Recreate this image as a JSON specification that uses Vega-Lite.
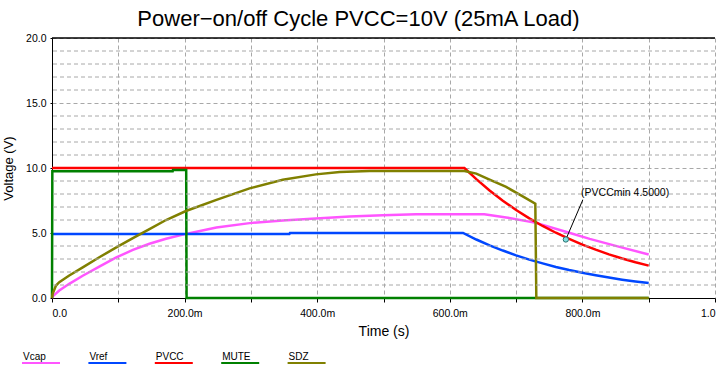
{
  "$schema": "https://vega.github.io/schema/vega-lite/v6.json",
  "width": 663,
  "height": 260,
  "autosize": {"type": "none"},
  "padding": {"left": 52, "top": 38, "right": 2, "bottom": 75},
  "background": "white",
  "title": {
    "text": "Power\u2212on/off Cycle PVCC=10V (25mA Load)",
    "font": "Liberation Sans",
    "fontSize": 22,
    "fontWeight": "normal",
    "color": "black",
    "anchor": "middle",
    "dx": -25,
    "dy": 26,
    "baseline": "alphabetic",
    "offset": 11
  },
  "config": {
    "view": {"stroke": null},
    "axis": {
      "labelFont": "Liberation Sans",
      "labelFontSize": 10.5,
      "labelColor": "black",
      "titleFont": "Liberation Sans",
      "titleFontSize": 14,
      "titleFontWeight": "normal",
      "titleColor": "black",
      "domainColor": "black",
      "tickColor": "black",
      "gridColor": "#a8a8a8",
      "gridDash": [4, 3],
      "gridOpacity": 1,
      "labelOverlap": false
    }
  },
  "datasets": {
    "curves": [
      {"series": "Vcap", "t": 0, "v": 0},
      {"series": "Vcap", "t": 0.001, "v": 0.12},
      {"series": "Vcap", "t": 0.011, "v": 0.58},
      {"series": "Vcap", "t": 0.026, "v": 1.09},
      {"series": "Vcap", "t": 0.047, "v": 1.73},
      {"series": "Vcap", "t": 0.072, "v": 2.43},
      {"series": "Vcap", "t": 0.097, "v": 3.12},
      {"series": "Vcap", "t": 0.122, "v": 3.7},
      {"series": "Vcap", "t": 0.147, "v": 4.17},
      {"series": "Vcap", "t": 0.172, "v": 4.56},
      {"series": "Vcap", "t": 0.202, "v": 4.93},
      {"series": "Vcap", "t": 0.248, "v": 5.42},
      {"series": "Vcap", "t": 0.298, "v": 5.76},
      {"series": "Vcap", "t": 0.348, "v": 5.97},
      {"series": "Vcap", "t": 0.398, "v": 6.12},
      {"series": "Vcap", "t": 0.449, "v": 6.27},
      {"series": "Vcap", "t": 0.499, "v": 6.37},
      {"series": "Vcap", "t": 0.549, "v": 6.45},
      {"series": "Vcap", "t": 0.652, "v": 6.45},
      {"series": "Vcap", "t": 0.685, "v": 6.2},
      {"series": "Vcap", "t": 0.73, "v": 5.78},
      {"series": "Vcap", "t": 0.775, "v": 5.1},
      {"series": "Vcap", "t": 0.811, "v": 4.55},
      {"series": "Vcap", "t": 0.856, "v": 3.93},
      {"series": "Vcap", "t": 0.9, "v": 3.35},
      {"series": "Vref", "t": 0, "v": 4.92},
      {"series": "Vref", "t": 0.358, "v": 4.92},
      {"series": "Vref", "t": 0.359, "v": 5.0},
      {"series": "Vref", "t": 0.62, "v": 5.0},
      {"series": "Vref", "t": 0.64, "v": 4.5},
      {"series": "Vref", "t": 0.66, "v": 4.05},
      {"series": "Vref", "t": 0.68, "v": 3.65},
      {"series": "Vref", "t": 0.7, "v": 3.28},
      {"series": "Vref", "t": 0.72, "v": 2.95},
      {"series": "Vref", "t": 0.74, "v": 2.66},
      {"series": "Vref", "t": 0.76, "v": 2.39},
      {"series": "Vref", "t": 0.78, "v": 2.15},
      {"series": "Vref", "t": 0.8, "v": 1.94},
      {"series": "Vref", "t": 0.82, "v": 1.75},
      {"series": "Vref", "t": 0.84, "v": 1.57},
      {"series": "Vref", "t": 0.86, "v": 1.41},
      {"series": "Vref", "t": 0.88, "v": 1.27},
      {"series": "Vref", "t": 0.9, "v": 1.15},
      {"series": "PVCC", "t": 0, "v": 10.0},
      {"series": "PVCC", "t": 0.622, "v": 10.0},
      {"series": "PVCC", "t": 0.64, "v": 9.14},
      {"series": "PVCC", "t": 0.66, "v": 8.27},
      {"series": "PVCC", "t": 0.68, "v": 7.48},
      {"series": "PVCC", "t": 0.7, "v": 6.77},
      {"series": "PVCC", "t": 0.72, "v": 6.13},
      {"series": "PVCC", "t": 0.74, "v": 5.54},
      {"series": "PVCC", "t": 0.76, "v": 5.02},
      {"series": "PVCC", "t": 0.78, "v": 4.54},
      {"series": "PVCC", "t": 0.8, "v": 4.11},
      {"series": "PVCC", "t": 0.82, "v": 3.72},
      {"series": "PVCC", "t": 0.84, "v": 3.36},
      {"series": "PVCC", "t": 0.86, "v": 3.04},
      {"series": "PVCC", "t": 0.88, "v": 2.75},
      {"series": "PVCC", "t": 0.9, "v": 2.49},
      {"series": "MUTE", "t": 0, "v": 0},
      {"series": "MUTE", "t": 0.0005, "v": 9.75},
      {"series": "MUTE", "t": 0.182, "v": 9.75},
      {"series": "MUTE", "t": 0.1825, "v": 9.85},
      {"series": "MUTE", "t": 0.2024, "v": 9.85},
      {"series": "MUTE", "t": 0.203, "v": 0},
      {"series": "MUTE", "t": 0.9, "v": 0},
      {"series": "SDZ", "t": 0, "v": 0},
      {"series": "SDZ", "t": 0.001, "v": 0.32},
      {"series": "SDZ", "t": 0.006, "v": 0.96},
      {"series": "SDZ", "t": 0.011, "v": 1.22},
      {"series": "SDZ", "t": 0.026, "v": 1.73},
      {"series": "SDZ", "t": 0.047, "v": 2.37},
      {"series": "SDZ", "t": 0.072, "v": 3.15},
      {"series": "SDZ", "t": 0.097, "v": 3.9},
      {"series": "SDZ", "t": 0.122, "v": 4.6},
      {"series": "SDZ", "t": 0.147, "v": 5.3},
      {"series": "SDZ", "t": 0.172, "v": 6.0},
      {"series": "SDZ", "t": 0.202, "v": 6.69},
      {"series": "SDZ", "t": 0.248, "v": 7.55},
      {"series": "SDZ", "t": 0.298, "v": 8.43},
      {"series": "SDZ", "t": 0.348, "v": 9.1},
      {"series": "SDZ", "t": 0.398, "v": 9.51},
      {"series": "SDZ", "t": 0.434, "v": 9.69},
      {"series": "SDZ", "t": 0.479, "v": 9.77},
      {"series": "SDZ", "t": 0.622, "v": 9.77},
      {"series": "SDZ", "t": 0.64, "v": 9.57},
      {"series": "SDZ", "t": 0.66, "v": 9.1},
      {"series": "SDZ", "t": 0.685, "v": 8.54},
      {"series": "SDZ", "t": 0.71, "v": 7.82},
      {"series": "SDZ", "t": 0.729, "v": 7.26},
      {"series": "SDZ", "t": 0.7305, "v": 0},
      {"series": "SDZ", "t": 0.9, "v": 0}
    ],
    "minorgrid": [
      {"v": 1}, {"v": 2}, {"v": 3}, {"v": 4},
      {"v": 6}, {"v": 7}, {"v": 8}, {"v": 9},
      {"v": 11}, {"v": 12}, {"v": 13}, {"v": 14},
      {"v": 16}, {"v": 17}, {"v": 18}, {"v": 19}
    ],
    "note": [
      {"t": 0.775, "v": 4.5, "t2": 0.8006, "v2": 7.55, "tx": 0.798, "vx": 8.1, "label": "(PVCCmin 4.5000)"}
    ]
  },
  "layer": [
    {
      "data": {"name": "curves"},
      "mark": {"type": "line", "strokeWidth": 2.5, "interpolate": "linear"},
      "encoding": {
        "x": {
          "field": "t", "type": "quantitative",
          "scale": {"domain": [0, 1], "nice": false, "zero": false},
          "axis": {
            "title": "Time (s)",
            "values": [0, 0.1, 0.2, 0.3, 0.4, 0.5, 0.6, 0.7, 0.8, 0.9, 1.0],
            "labelExpr": "round(datum.value * 10) % 2 != 0 ? '' : (datum.value == 0 ? '0.0' : (datum.value >= 0.99 ? '1.0' : format(datum.value * 1000, '.1f') + 'm'))",
            "grid": true,
            "tickSize": 4,
            "labelPadding": 6,
            "titlePadding": 6,
            "labelFlush": true,
            "labelOverlap": false
          }
        },
        "y": {
          "field": "v", "type": "quantitative",
          "scale": {"domain": [0, 20], "nice": false},
          "axis": {
            "title": "Voltage (V)",
            "titleFontSize": 13,
            "values": [0, 5, 10, 15, 20],
            "format": ".1f",
            "grid": true,
            "tickSize": 2,
            "labelPadding": 4,
            "titlePadding": 10,
            "labelOverlap": false
          }
        },
        "color": {
          "field": "series", "type": "nominal",
          "scale": {
            "domain": ["Vcap", "Vref", "PVCC", "MUTE", "SDZ"],
            "range": ["#FF55FF", "#0047FF", "#FF0000", "#008000", "#808000"]
          },
          "legend": {
            "title": null,
            "orient": "none",
            "legendX": -31,
            "legendY": 305,
            "direction": "horizontal",
            "columns": 5,
            "gridAlign": "all",
            "symbolType": "stroke",
            "symbolSize": 1444,
            "symbolStrokeWidth": 2,
            "labelOffset": -38,
            "labelBaseline": "line-bottom",
            "labelLineHeight": 18,
            "labelFont": "Liberation Sans",
            "labelFontSize": 10,
            "labelColor": "black",
            "columnPadding": 20.4
          }
        }
      }
    },
    {
      "data": {"name": "minorgrid"},
      "mark": {"type": "rule", "color": "#a8a8a8", "strokeWidth": 1, "strokeDash": [4, 3], "zindex": -1},
      "encoding": {
        "y": {"field": "v", "type": "quantitative"}
      }
    },
    {
      "data": {"values": [{}]},
      "mark": {"type": "rule", "color": "black", "strokeWidth": 1.5},
      "encoding": {
        "y": {"datum": 20, "type": "quantitative"}
      }
    },
    {
      "data": {"name": "note"},
      "mark": {"type": "rule", "color": "black", "strokeWidth": 1},
      "encoding": {
        "x": {"field": "t", "type": "quantitative"},
        "y": {"field": "v", "type": "quantitative"},
        "x2": {"field": "t2"},
        "y2": {"field": "v2"}
      }
    },
    {
      "data": {"name": "note"},
      "mark": {"type": "point", "shape": "circle", "size": 28, "filled": true, "fill": "#7fe0e0", "stroke": "#2f6f6f", "strokeWidth": 1, "opacity": 1},
      "encoding": {
        "x": {"field": "t", "type": "quantitative"},
        "y": {"field": "v", "type": "quantitative"}
      }
    },
    {
      "data": {"name": "note"},
      "mark": {"type": "text", "align": "left", "baseline": "middle", "font": "Liberation Sans", "fontSize": 10.5, "color": "black"},
      "encoding": {
        "x": {"field": "tx", "type": "quantitative"},
        "y": {"field": "vx", "type": "quantitative"},
        "text": {"field": "label"}
      }
    }
  ]
}
